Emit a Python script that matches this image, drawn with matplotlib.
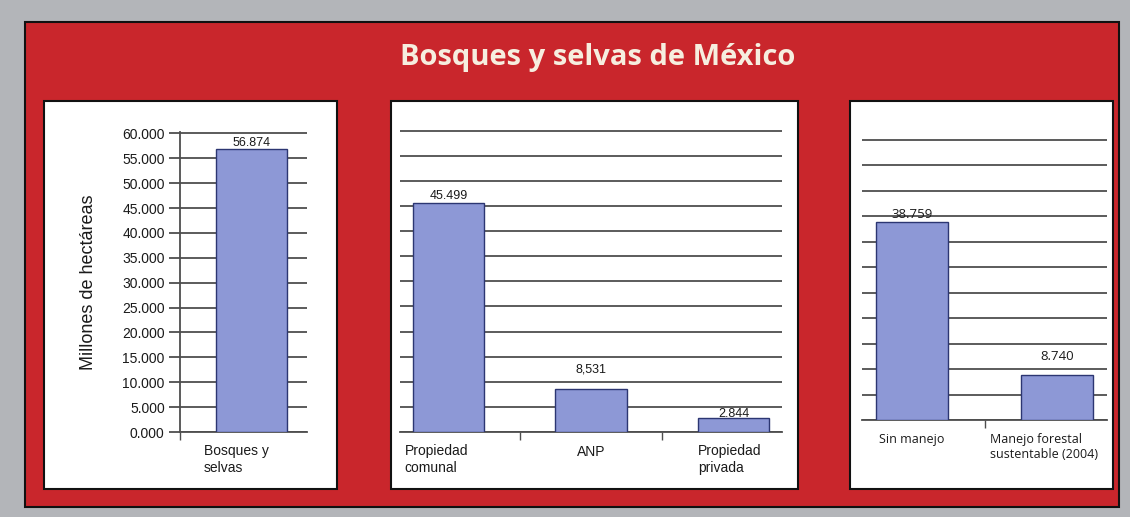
import matplotlib.pyplot as plt
from matplotlib.patches import Rectangle
from matplotlib.transforms import ScaledTranslation

# ---------------------------------------------------------------------------
# Data
# ---------------------------------------------------------------------------
title = 'Bosques y selvas de México'
ylabel = 'Millones de hectáreas'

cats_total = ['Bosques y\nselvas']
vals_total = [56.874]
labels_total = ['56.874']

cats_owner = ['Propiedad\ncomunal', 'ANP', 'Propiedad\nprivada']
vals_owner = [45.499, 8.531, 2.844]
labels_owner = ['45.499', '8,531', '2.844']

cats_manage = ['Sin manejo', 'Manejo forestal\nsustentable (2004)']
vals_manage = [38.759, 8.740]
labels_manage = ['38.759', '8.740']

yticks = list(range(0, 61, 5))
ytick_labels = [f'{t}.000' for t in yticks]

# ---------------------------------------------------------------------------
# Style
# ---------------------------------------------------------------------------
W, H = 1130, 517
GRAY = '#b3b5b9'
RED = '#c9262c'
BAR = '#8d98d6'
EDGE = '#2c3672'
GRID = '#4e4e4e'
TXT = '#1a1a1a'

fig = plt.figure(figsize=(W / 100, H / 100), dpi=100, facecolor=GRAY)

# background frame, drawn in pixel coordinates
bg = fig.add_axes([0, 0, 1, 1])
bg.set_xlim(0, W)
bg.set_ylim(H, 0)
bg.axis('off')
bg.add_patch(Rectangle((25, 22), 1094, 485, facecolor=RED, edgecolor='#111111', lw=1.5))
for x0, y0, x1, y1 in [(44, 101, 337, 489), (391, 101, 798, 489), (850, 101, 1113, 489)]:
    bg.add_patch(Rectangle((x0, y0), x1 - x0, y1 - y0, facecolor='white',
                           edgecolor='#111111', lw=1.5))
bg.text(598, 58, title, ha='center', va='center', color='#f6eedf',
        fontsize=21, fontweight='bold', family='Open Sans')


def px_axes(x0, y0, x1, y1):
    return fig.add_axes([x0 / W, 1 - y1 / H, (x1 - x0) / W, (y1 - y0) / H])


def shift_label(lbl, dx_px):
    lbl.set_transform(lbl.get_transform() + ScaledTranslation(dx_px / 100, 0, fig.dpi_scale_trans))


def draw_panel(ax, cats, vals, labels, ymax, xlim, offsets, font, fs_cat, fs_val):
    x = list(range(len(cats)))
    ax.bar(x, vals, width=0.5, color=BAR, edgecolor=EDGE, linewidth=1, zorder=3)
    ax.set_xlim(*xlim)
    ax.set_ylim(0, ymax + 0.3)
    ax.set_yticks(range(0, ymax + 1, 5))
    ax.grid(axis='y', color=GRID, lw=1.3)
    ax.set_axisbelow(True)
    ax.patch.set_alpha(0)
    for s in ['top', 'right', 'left']:
        ax.spines[s].set_visible(False)
    ax.spines['bottom'].set_color(GRID)
    ax.spines['bottom'].set_linewidth(1.3)
    ax.set_xticks(x)
    ax.set_xticklabels(cats, family=font, fontsize=fs_cat, color=TXT,
                       ha='center', multialignment='left')
    ax.tick_params(axis='x', which='major', length=0, pad=9)
    ax.set_xticks([i + 0.5 for i in range(len(cats) - 1)], minor=True)
    ax.tick_params(axis='x', which='minor', length=6, width=1, color=GRID)
    ax.tick_params(axis='y', length=0, labelleft=False)
    for xi, v, lab, off in zip(x, vals, labels, offsets):
        ax.annotate(lab, (xi, v), xytext=(0, off), textcoords='offset points',
                    ha='center', va='bottom', fontsize=fs_val, family=font, color=TXT)


# Panel 1 -- total area
ax1 = px_axes(180, 132, 307, 432)
draw_panel(ax1, cats_total, vals_total, labels_total, 60, (-0.5, 0.39), [0],
           'Liberation Sans', 10, 9)
ax1.spines['left'].set_visible(True)
ax1.spines['left'].set_color(GRID)
ax1.spines['left'].set_linewidth(1.3)
ax1.set_yticks(yticks)
ax1.set_yticklabels(ytick_labels, family='Liberation Sans', fontsize=10, color=TXT)
ax1.tick_params(axis='y', length=8, width=1.3, color=GRID, labelleft=True, pad=3)
ax1.set_xticks([-0.5], minor=True)
shift_label(ax1.get_xticklabels()[0], -15)
ax1.set_ylabel(ylabel, family='Liberation Sans', fontsize=13, color=TXT)
ax1.yaxis.set_label_coords((97 - 180) / 127, 0.5)

# Panel 2 -- ownership
ax2 = px_axes(400, 129, 782, 432)
draw_panel(ax2, cats_owner, vals_owner, labels_owner, 60, (-0.34, 2.34), [1, 10, -2],
           'Liberation Sans', 10, 9)
shift_label(ax2.get_xticklabels()[0], -12)
shift_label(ax2.get_xticklabels()[2], -4)

# Panel 3 -- management
ax3 = px_axes(862, 138, 1107, 420)
draw_panel(ax3, cats_manage, vals_manage, labels_manage, 55, (-0.345, 1.345), [1, 9],
           'Open Sans', 9, 9.5)
shift_label(ax3.get_xticklabels()[1], -13)

fig.savefig('out.png', dpi=100, facecolor=GRAY)
